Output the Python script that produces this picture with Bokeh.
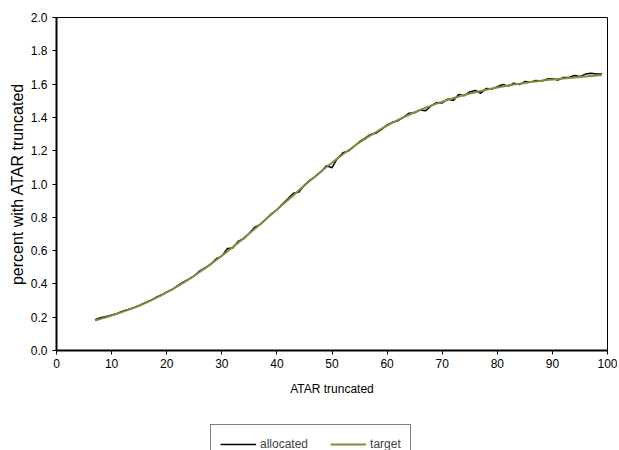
from bokeh.plotting import figure
from bokeh.models import Legend, LegendItem, Range1d, FixedTicker
from bokeh.layouts import column
from bokeh.embed import file_html
from bokeh.resources import INLINE

atar = list(range(7, 100))

target = [
    0.180, 0.190, 0.200, 0.210, 0.221, 0.232, 0.244, 0.256, 0.269, 0.283,
    0.298, 0.314, 0.331, 0.349, 0.367, 0.386, 0.406, 0.427, 0.449, 0.472,
    0.495, 0.519, 0.544, 0.569, 0.595, 0.621, 0.648, 0.675, 0.703, 0.731,
    0.759, 0.788, 0.817, 0.846, 0.875, 0.904, 0.933, 0.962, 0.991, 1.019,
    1.047, 1.075, 1.102, 1.128, 1.154, 1.179, 1.203, 1.227, 1.249, 1.271,
    1.292, 1.312, 1.332, 1.350, 1.368, 1.385, 1.401, 1.416, 1.431, 1.445,
    1.458, 1.471, 1.483, 1.494, 1.505, 1.515, 1.525, 1.534, 1.543, 1.551,
    1.559, 1.566, 1.573, 1.580, 1.586, 1.592, 1.597, 1.602, 1.607, 1.612,
    1.616, 1.620, 1.624, 1.628, 1.631, 1.634, 1.637, 1.640, 1.643, 1.646,
    1.649, 1.652, 1.655,
]

allocated = [
    0.185, 0.197, 0.205, 0.213, 0.222, 0.236, 0.246, 0.257, 0.270, 0.285,
    0.300, 0.318, 0.333, 0.352, 0.366, 0.389, 0.410, 0.428, 0.448, 0.478,
    0.497, 0.518, 0.551, 0.567, 0.612, 0.615, 0.656, 0.672, 0.706, 0.741,
    0.758, 0.788, 0.821, 0.845, 0.880, 0.911, 0.945, 0.952, 0.994, 1.024,
    1.046, 1.073, 1.110, 1.098, 1.155, 1.188, 1.198, 1.225, 1.254, 1.275,
    1.298, 1.305, 1.328, 1.355, 1.372, 1.380, 1.402, 1.425, 1.428, 1.445,
    1.440, 1.470, 1.489, 1.487, 1.510, 1.502, 1.538, 1.530, 1.553, 1.562,
    1.545, 1.574, 1.570, 1.585, 1.598, 1.588, 1.605, 1.597, 1.615, 1.612,
    1.622, 1.618, 1.630, 1.632, 1.624, 1.640, 1.640, 1.652, 1.645, 1.660,
    1.665, 1.660, 1.660,
]

x_ticks = [0, 10, 20, 30, 40, 50, 60, 70, 80, 90, 100]
y_ticks = [0.0, 0.2, 0.4, 0.6, 0.8, 1.0, 1.2, 1.4, 1.6, 1.8, 2.0]
series_names = ["allocated", "target"]

FONT = "Liberation Sans"
BLACK = "black"
GREEN = "#77933C"

p = figure(
    frame_width=551, frame_height=333,
    x_range=Range1d(0, 100), y_range=Range1d(0, 2.0),
    output_backend="svg", toolbar_location=None,
    min_border_left=56, min_border_top=17, min_border_right=10, min_border_bottom=60,
    background_fill_color="white", border_fill_color="white",
)
p.grid.visible = False
p.outline_line_color = "black"
p.outline_line_width = 1

p.line(atar, allocated, line_color=BLACK, line_width=1.5)
p.line(atar, target, line_color=GREEN, line_width=2)

for ax in (p.xaxis[0], p.yaxis[0]):
    ax.axis_line_color = "black"
    ax.axis_line_width = 2
    ax.major_tick_line_color = "black"
    ax.major_tick_line_width = 1
    ax.major_tick_out = 4
    ax.major_tick_in = 0
    ax.minor_tick_line_color = None
    ax.major_label_text_font = FONT
    ax.major_label_text_font_size = "12px"
    ax.major_label_text_color = "black"
    ax.axis_label_text_font = FONT
    ax.axis_label_text_font_style = "normal"
    ax.axis_label_text_color = "black"

p.xaxis.ticker = FixedTicker(ticks=x_ticks)
p.yaxis.ticker = FixedTicker(ticks=y_ticks)
p.yaxis.major_label_overrides = {v: f"{v:.1f}" for v in y_ticks}
p.xaxis.major_label_standoff = 4
p.yaxis.major_label_standoff = 5
p.xaxis.axis_label = "ATAR truncated"
p.xaxis.axis_label_text_font_size = "12px"
p.xaxis.axis_label_standoff = 11
p.yaxis.axis_label = "percent with ATAR truncated"
p.yaxis.axis_label_text_font_size = "16px"
p.yaxis.axis_label_standoff = 2

# legend strip below the chart (its own canvas, cut at the bottom like the reference)
leg_h = 450 - (17 + 333 + 60)
p2 = figure(
    width=617, height=leg_h,
    x_range=Range1d(0, 1), y_range=Range1d(0, 1),
    x_axis_location=None, y_axis_location=None,
    output_backend="svg", toolbar_location=None,
    min_border=0, min_border_left=0, min_border_right=0, min_border_top=0, min_border_bottom=0,
    background_fill_color="white", border_fill_color="white",
)
p2.grid.visible = False
p2.outline_line_color = None
la = p2.line([5, 6], [5, 6], line_color=BLACK, line_width=1.5)
lt = p2.line([5, 6], [5, 6], line_color=GREEN, line_width=2)

pad = 9
legend = Legend(
    items=[LegendItem(label=series_names[0], renderers=[la]),
           LegendItem(label=series_names[1], renderers=[lt])],
    orientation="horizontal",
    location=(154, leg_h - 16 - (2 * pad + 20)),
    border_line_color="black", border_line_width=1.5,
    label_text_font=FONT, label_text_font_size="12px",
    glyph_width=36, label_standoff=4, spacing=22,
    padding=pad, margin=0,
    background_fill_alpha=1.0,
)
p2.add_layout(legend, "center")

layout = column(p, p2, spacing=0)
open("out.html", "w").write(file_html(layout, INLINE))
